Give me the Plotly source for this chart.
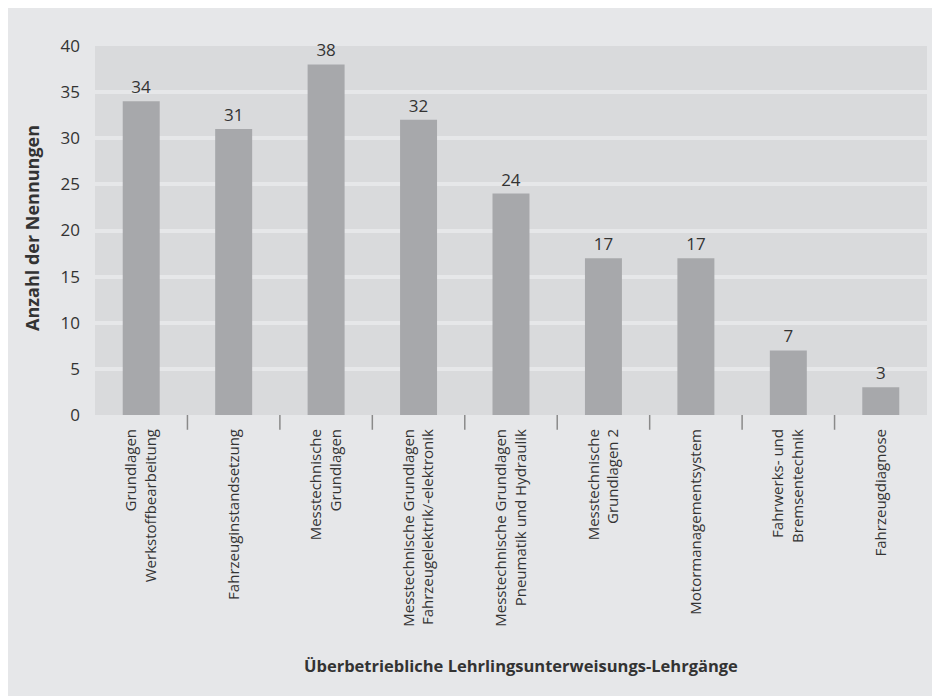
import plotly.graph_objects as go

categories = [
    "Grundlagen<br>Werkstoffbearbeitung",
    "Fahrzeuginstandsetzung",
    "Messtechnische<br>Grundlagen",
    "Messtechnische Grundlagen<br>Fahrzeugelektrik/-elektronik",
    "Messtechnische Grundlagen<br>Pneumatik und Hydraulik",
    "Messtechnische<br>Grundlagen 2",
    "Motormanagementsystem",
    "Fahrwerks- und<br>Bremsentechnik",
    "Fahrzeugdiagnose",
]
values = [34, 31, 38, 32, 24, 17, 17, 7, 3]
y_ticks = [0, 5, 10, 15, 20, 25, 30, 35, 40]

FONT = "Open Sans"
TXT = "#333333"
BG = "#e6e7e9"
PLOT = "#d9dadc"
BAR = "#a7a8ab"

fig = go.Figure()
fig.add_trace(go.Bar(
    x=list(range(len(categories))),
    y=values,
    width=0.4,
    marker=dict(color=BAR, line=dict(width=0)),
    text=[str(v) for v in values],
    textposition="outside",
    textfont=dict(family=FONT, size=17, color=TXT),
    cliponaxis=False,
    hoverinfo="skip",
))

shapes = []
# separator ticks between categories
for i in range(len(categories) - 1):
    shapes.append(dict(type="line", xref="x", yref="paper",
                       x0=i + 0.5, x1=i + 0.5, y0=0, y1=-0.04,
                       line=dict(color="#8a8a8a", width=1.5)))

fig.update_layout(
    width=940, height=696,
    margin=dict(l=87, r=21, t=38, b=289),
    paper_bgcolor=BG,
    plot_bgcolor=PLOT,
    showlegend=False,
    shapes=shapes,
    font=dict(family=FONT, color=TXT),
    xaxis=dict(
        range=[-0.5, 8.5],
        tickmode="array",
        tickvals=list(range(len(categories))),
        ticktext=categories,
        tickangle=-90,
        ticks="",
        showgrid=False,
        zeroline=False,
        showline=False,
        tickfont=dict(family=FONT, size=15, color=TXT),
        ticklabelstandoff=10,
    ),
    yaxis=dict(
        range=[0, 40],
        tickmode="array",
        tickvals=y_ticks,
        showgrid=True,
        gridcolor=BG,
        gridwidth=3.5,
        zeroline=False,
        showline=False,
        ticks="",
        ticklabelstandoff=14,
        tickfont=dict(family=FONT, size=17, color=TXT),
    ),
    annotations=[
        dict(text="<b>Anzahl der Nennungen</b>", xref="paper", yref="paper",
             x=-0.0757, y=0.507, textangle=-90, showarrow=False,
             font=dict(family=FONT, size=18, color=TXT),
             xanchor="center", yanchor="middle"),
        dict(text="<b>Überbetriebliche Lehrlingsunterweisungs-Lehrgänge</b>",
             xref="paper", yref="paper", x=0.512, y=-0.680, showarrow=False,
             font=dict(family=FONT, size=16.5, color=TXT),
             xanchor="center", yanchor="middle"),
    ],
)

fig.write_html("out.html")
